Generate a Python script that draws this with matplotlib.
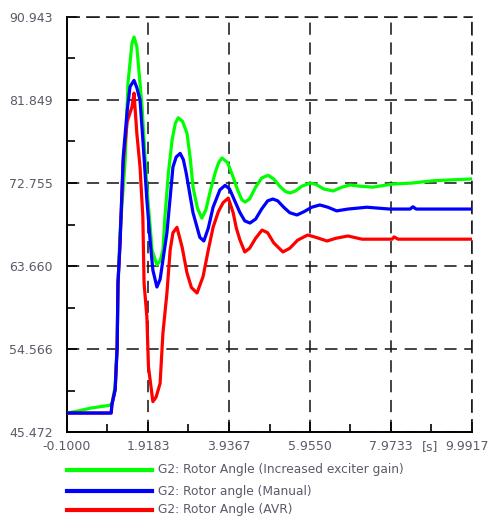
import matplotlib
matplotlib.use("Agg")
import matplotlib.pyplot as plt
import matplotlib.transforms as mtransforms
from matplotlib.lines import Line2D

plt.rcParams['font.family'] = ['DejaVu Sans']

# time axis limits and ticks
x_ticks = [-0.1000, 1.9183, 3.9367, 5.9550, 7.9733, 9.9917]
x_labels = ['-0.1000', '1.9183', '3.9367', '5.9550', '7.9733', '9.9917']
y_ticks = [45.472, 54.566, 63.660, 72.755, 81.849, 90.943]
y_labels = ['45.472', '54.566', '63.660', '72.755', '81.849', '90.943']

# G2: Rotor Angle (Increased exciter gain)
t_gain = [-0.1, 0.2, 0.5, 0.97, 1.02, 1.1, 1.15, 1.17, 1.22, 1.35, 1.42, 1.52, 1.57,
          1.64, 1.77, 1.89, 2.02, 2.14, 2.22, 2.29, 2.34, 2.43, 2.52, 2.6, 2.67, 2.78,
          2.89, 2.97, 3.04, 3.15, 3.26, 3.36, 3.46, 3.6, 3.68, 3.76, 3.9, 4.04, 4.15,
          4.26, 4.34, 4.45, 4.6, 4.75, 4.91, 5.05, 5.2, 5.35, 5.46, 5.6, 5.75, 5.96,
          6.1, 6.3, 6.53, 6.75, 6.95, 7.2, 7.52, 8.02, 8.5, 9.02, 9.5, 9.99]
y_gain = [47.55, 47.8, 48.1, 48.4, 48.6, 50.5, 55.0, 61.0, 67.3, 75.3, 83.7, 88.1, 88.75,
          87.7, 81.1, 72.3, 65.4, 63.8, 64.2, 65.4, 69.0, 74.0, 77.5, 79.3, 79.9, 79.5,
          78.2, 75.5, 72.3, 70.0, 68.9, 69.8, 71.7, 74.0, 75.0, 75.5, 75.0, 73.4, 72.0,
          70.9, 70.67, 71.0, 72.3, 73.3, 73.6, 73.2, 72.4, 71.8, 71.66, 71.9, 72.4, 72.75,
          72.6, 72.1, 71.88, 72.3, 72.54, 72.4, 72.3, 72.64, 72.75, 73.0, 73.1, 73.2]

# G2: Rotor angle (Manual)
t_man = [-0.1, 1.0, 1.02, 1.1, 1.15, 1.17, 1.22, 1.30, 1.40, 1.47, 1.57, 1.64, 1.72,
         1.79, 1.89, 1.97, 2.04, 2.14, 2.22, 2.29, 2.39, 2.54, 2.62, 2.72, 2.8, 2.87,
         3.04, 3.21, 3.31, 3.42, 3.54, 3.71, 3.84, 3.95, 4.04, 4.21, 4.33, 4.46, 4.6,
         4.75, 4.9, 5.03, 5.15, 5.3, 5.45, 5.63, 5.8, 6.0, 6.2, 6.4, 6.62, 6.9, 7.37,
         7.94, 8.45, 8.52, 8.6, 9.99]
y_man = [47.55, 47.55, 48.5, 50.1, 54.8, 61.8, 66.0, 75.6, 80.7, 83.3, 84.0, 83.2, 81.85,
         77.5, 70.9, 66.5, 63.2, 61.36, 62.2, 64.3, 67.3, 74.5, 75.6, 76.0, 75.3, 73.85,
         69.5, 66.8, 66.4, 67.8, 70.1, 72.0, 72.5, 72.1, 71.2, 69.5, 68.6, 68.37, 68.8,
         69.9, 70.8, 71.0, 70.8, 70.1, 69.5, 69.25, 69.6, 70.1, 70.35, 70.1, 69.7, 69.9,
         70.1, 69.9, 69.9, 70.15, 69.9, 69.9]

# G2: Rotor Angle (AVR)
t_avr = [-0.1, 1.0, 1.02, 1.1, 1.15, 1.17, 1.22, 1.30, 1.40, 1.52, 1.57, 1.64, 1.72,
         1.79, 1.82, 1.89, 1.93, 2.04, 2.12, 2.22, 2.29, 2.39, 2.47, 2.54, 2.64, 2.77,
         2.89, 3.0, 3.14, 3.29, 3.42, 3.54, 3.67, 3.79, 3.92, 4.04, 4.12, 4.21, 4.33,
         4.45, 4.6, 4.76, 4.9, 5.05, 5.28, 5.45, 5.65, 5.9, 6.1, 6.38, 6.6, 6.9, 7.25,
         8.0, 8.05, 8.15, 9.99]
y_avr = [47.55, 47.55, 48.5, 50.1, 54.8, 61.8, 66.0, 75.0, 79.5, 81.1, 82.6, 78.2, 74.5,
         69.0, 61.8, 58.1, 52.6, 48.8, 49.3, 50.8, 56.3, 60.7, 65.4, 67.3, 67.9, 65.7,
         62.9, 61.3, 60.7, 62.5, 65.4, 67.9, 69.6, 70.6, 71.1, 69.5, 67.8, 66.5, 65.2,
         65.6, 66.7, 67.6, 67.3, 66.2, 65.2, 65.6, 66.5, 67.06, 66.8, 66.4, 66.7, 66.95,
         66.6, 66.6, 66.85, 66.6, 66.6]

series = [
    (t_gain, y_gain, '#00ff00', 'G2: Rotor Angle (Increased exciter gain)', 3),
    (t_man, y_man, '#0000ff', 'G2: Rotor angle (Manual)', 5),
    (t_avr, y_avr, '#ff0000', 'G2: Rotor Angle (AVR)', 4),
]

fig = plt.figure(figsize=(4.92, 5.19), dpi=100)
ax = fig.add_axes([67 / 492, 87 / 519, 405 / 492, 415 / 519])

for t, y, c, lab, z in series:
    ax.plot(t, y, color=c, lw=2.3, label=lab, zorder=z)

ax.set_xlim(x_ticks[0], x_ticks[-1])
ax.set_ylim(y_ticks[0], y_ticks[-1])
ax.set_xticks(x_ticks)
ax.set_xticklabels(x_labels)
ax.set_yticks(y_ticks)
ax.set_yticklabels(y_labels)
ax.set_xticks([(a + b) / 2 for a, b in zip(x_ticks[:-1], x_ticks[1:])], minor=True)
ax.set_yticks([(a + b) / 2 for a, b in zip(y_ticks[:-1], y_ticks[1:])], minor=True)

txt = '#5a5a6a'
ax.tick_params(which='major', direction='in', length=7, width=1.2, colors='black',
               labelcolor=txt, labelsize=9, pad=6)
ax.tick_params(axis='y', which='major', pad=10)
ax.tick_params(which='minor', direction='in', length=6, width=1.2, colors='black')

# last x label sits a bit left so it stays inside the figure
last = ax.get_xticklabels()[-1]
last.set_transform(last.get_transform() +
                   mtransforms.ScaledTranslation(-5 / 100, 0, fig.dpi_scale_trans))

ax.grid(True, which='major', color='#111111', lw=1.1, linestyle=(0, (8, 5)), zorder=1)
for s in ['left', 'bottom']:
    ax.spines[s].set_linewidth(1.4)
for s in ['top', 'right']:
    ax.spines[s].set_linestyle((0, (8, 5)))
    ax.spines[s].set_linewidth(1.1)
    ax.spines[s].set_color('#111111')

ax.annotate('[s]', xy=(8.95, 0), xycoords=('data', 'axes fraction'), xytext=(0, -6),
            textcoords='offset points', ha='center', va='top', fontsize=9, color=txt)

# legend drawn by hand below the axes
leg_y = [470, 491, 510]
for (t, y, c, lab, z), py in zip(series, leg_y):
    yy = 1 - py / 519
    fig.add_artist(Line2D([67 / 492, 152 / 492], [yy, yy], color=c, lw=3,
                          transform=fig.transFigure))
    fig.text(158 / 492, yy, lab, ha='left', va='center', fontsize=8.8, color=txt)

fig.savefig('out.png', dpi=100)
